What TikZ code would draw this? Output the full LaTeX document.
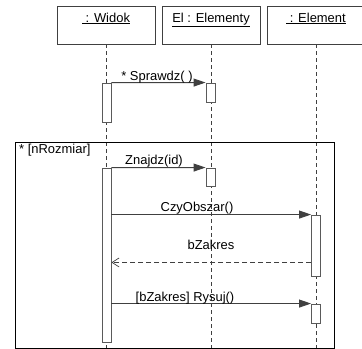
\documentclass[tikz,border=0pt]{standalone}
\usepackage{fontspec}
\setmainfont{Liberation Sans}
\usetikzlibrary{arrows.meta}
\definecolor{linegray}{HTML}{404040}
\definecolor{actgray}{HTML}{5A5A5A}
\begin{document}
\begin{tikzpicture}[x=1bp,y=-1bp,
  every node/.style={font=\fontsize{13}{15}\selectfont, text=black},
  objbox/.style={draw=linegray, line width=0.9bp, fill=white, minimum height=38bp, inner sep=0pt},
  lifeline/.style={draw=linegray, line width=0.9bp, dash pattern=on 4bp off 3bp},
  act/.style={draw=actgray, line width=0.9bp, fill=white, minimum width=9bp, inner sep=0pt},
  msg/.style={draw=linegray, line width=0.9bp, -{Triangle[length=12bp,width=8bp]}},
  ret/.style={draw=linegray, line width=0.8bp, dash pattern=on 5bp off 3bp, -{Straight Barb[length=7bp,width=9bp,line width=0.7bp]}},
  lbl/.style={inner sep=0pt, anchor=base},
  frame/.style={draw=black, line width=0.9bp}]
\useasboundingbox (0,0) rectangle (362,349);

% object boxes
\node[objbox, minimum width=98bp] (widok) at (106,25) {};
\node[objbox, minimum width=98bp] (elementy) at (211,25) {};
\node[objbox, minimum width=95bp] (element) at (314.5,25) {};
\node[lbl] (twidok) at (106,22) {\underline{ : Widok}};
\node[lbl] (telementy) at (211,22) {\underline{El : Elementy}};
\node[lbl] (telement) at (316,22) {\underline{ : Element}};

% lifeline ends
\coordinate (wend) at (106,348);
\coordinate (eend) at (211,348);
\coordinate (mend) at (316,348);
\draw[lifeline] (widok.south -| wend) -- (wend);
\draw[lifeline] (elementy.south -| eend) -- (eend);
\draw[lifeline] (element.south -| mend) -- (mend);

% frame
\coordinate (ftl) at (15,142);
\coordinate (fbr) at (334,348);
\draw[frame] (ftl) rectangle (fbr);
\node[inner sep=0pt, anchor=base west] (guard) at (19,153) {* [nRozmiar]};

% activations
\node[act, minimum height=39bp] (wa1) at (106.5,102.5) {};
\node[act, minimum height=19bp] (ea1) at (210.5,92.5) {};
\node[act, minimum height=174bp] (wa2) at (106.5,255) {};
\node[act, minimum height=18bp] (ea2) at (210.5,177) {};
\node[act, minimum height=61bp] (ma1) at (316,245.5) {};
\node[act, minimum height=19bp] (ma2) at (316,313.5) {};

% messages
\draw[msg] (wa1.north east) -- (ea1.north west);
\node[lbl] (lsprawdz) at (157,80) {* Sprawdz( )};

\draw[msg] (wa2.north east) -- (ea2.north west);
\node[lbl] (lznajdz) at (154,164) {Znajdz(id)};

\draw[msg] (ma1.north west -| wa2.east) -- (ma1.north west);
\node[lbl] (lczy) at (197,211) {CzyObszar()};

\coordinate (retstart) at ([yshift=14bp]ma1.south west);
\draw[ret] (retstart) -- (retstart -| wa2.east);
\node[lbl] (lzakres) at (211,249) {bZakres};

\draw[msg] (ma2.north west -| wa2.east) -- (ma2.north west);
\node[lbl] (lrysuj) at (185,301) {[bZakres] Rysuj()};
\end{tikzpicture}
\end{document}
